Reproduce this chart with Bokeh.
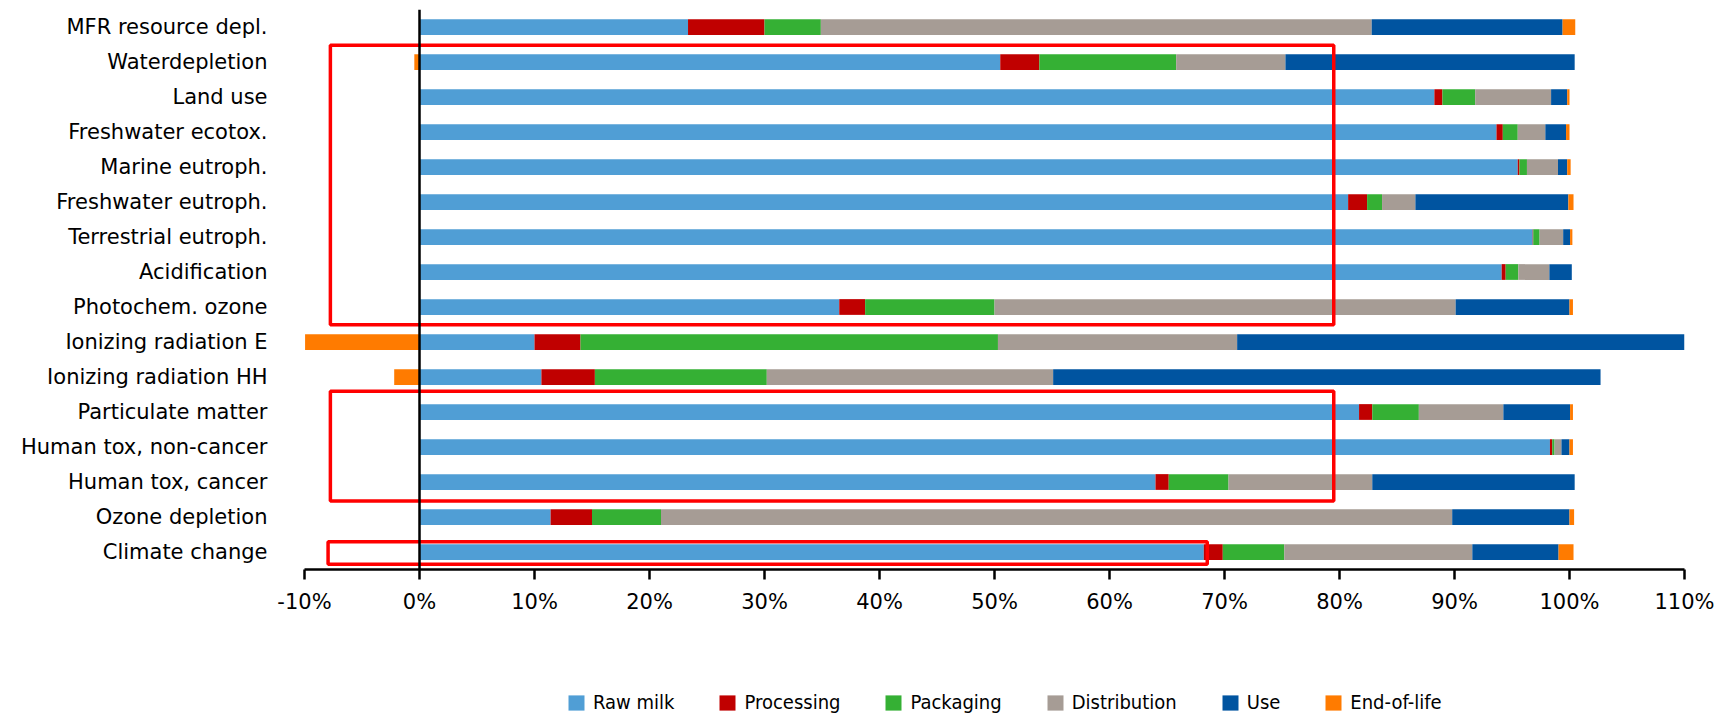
from bokeh.plotting import figure
from bokeh.models import FactorRange, Range1d, FixedTicker, Span, Legend, LegendItem
from bokeh.layouts import column
from bokeh.embed import file_html
from bokeh.resources import INLINE

# ---------------- data ----------------
categories = [
    "MFR resource depl.", "Waterdepletion", "Land use", "Freshwater ecotox.",
    "Marine eutroph.", "Freshwater eutroph.", "Terrestrial eutroph.", "Acidification",
    "Photochem. ozone", "Ionizing radiation E", "Ionizing radiation HH",
    "Particulate matter", "Human tox, non-cancer", "Human tox, cancer",
    "Ozone depletion", "Climate change",
]
raw_milk     = [23.35, 50.5, 88.25, 93.65, 95.5, 80.75, 96.8, 94.1, 36.5, 10.0, 10.6, 81.7, 98.3, 64.0, 11.4, 68.2]
processing   = [6.65, 3.4, 0.7, 0.55, 0.15, 1.65, 0.05, 0.35, 2.25, 4.0, 4.65, 1.15, 0.2, 1.15, 3.6, 1.65]
packaging    = [4.9, 11.9, 2.85, 1.3, 0.65, 1.3, 0.55, 1.1, 11.25, 36.3, 14.95, 4.05, 0.2, 5.2, 6.0, 5.35]
distribution = [47.9, 9.5, 6.6, 2.4, 2.7, 2.9, 2.05, 2.7, 40.1, 20.8, 24.9, 7.35, 0.6, 12.5, 68.8, 16.35]
use          = [16.6, 25.15, 1.4, 1.8, 0.8, 13.3, 0.6, 1.95, 9.9, 39.5, 47.6, 5.8, 0.7, 17.6, 10.2, 7.5]
end_of_life  = [1.1, -0.45, 0.2, 0.3, 0.3, 0.45, 0.2, 0.0, 0.3, -9.95, -2.2, 0.25, 0.3, 0.0, 0.4, 1.3]

series_names = ["Raw milk", "Processing", "Packaging", "Distribution", "Use", "End-of-life"]
x_ticks = [-10, 0, 10, 20, 30, 40, 50, 60, 70, 80, 90, 100, 110]

# highlighted groups (red frames): first / last category, x extent in %
box_first = ["Waterdepletion", "Particulate matter", "Climate change"]
box_last = ["Photochem. ozone", "Human tox, cancer", "Climate change"]
box_left = [-7.75, -7.75, -7.95]
box_right = [79.5, 79.5, 68.5]

# ---------------- styles ----------------
colors = ["#509ED5", "#C00000", "#35B034", "#A69C95", "#0054A0", "#FF7B00"]
box_top_pad = [0.48, 0.59, 0.29]
box_bot_pad = [0.51, 0.54, 0.35]
FONT = "DejaVu Sans"
W = 1720
FRAME_L = 304
FRAME_R = 1684

p = figure(
    width=W, height=650,
    x_range=Range1d(-10, 110),
    y_range=FactorRange(*reversed(categories)),
    output_backend="svg", toolbar_location=None,
    min_border_left=FRAME_L, min_border_right=W - FRAME_R,
    min_border_top=9, min_border_bottom=81,
)
p.outline_line_color = None
p.xgrid.visible = False
p.ygrid.visible = False
p.background_fill_color = "white"
p.border_fill_color = "white"

n = len(categories)
pos_base = [0.0] * n
for name, vals, color in zip(series_names,
                             [raw_milk, processing, packaging, distribution, use, end_of_life],
                             colors):
    left, right = [], []
    for i, v in enumerate(vals):
        if v >= 0:
            left.append(pos_base[i])
            right.append(pos_base[i] + v)
            pos_base[i] += v
        else:
            left.append(v)
            right.append(0.0)
    p.hbar(y=categories, left=left, right=right, height=0.45,
           fill_color=color, line_color=None)

# zero line
p.add_layout(Span(location=0, dimension="height", line_color="black", line_width=2.5))

# red highlight frames (synthetic categorical coordinates)
def center_of(cat):
    return (n - 1 - categories.index(cat)) + 0.5

tops = [center_of(c) + tp for c, tp in zip(box_first, box_top_pad)]
bots = [center_of(c) - bp for c, bp in zip(box_last, box_bot_pad)]
p.quad(left=box_left, right=box_right, top=tops, bottom=bots,
       fill_alpha=0, line_color="#FF0000", line_width=3.5)

# axes
xa = p.xaxis[0]
xa.ticker = FixedTicker(ticks=x_ticks)
xa.major_label_overrides = {t: f"{t}%" for t in x_ticks}
xa.axis_line_color = "black"
xa.axis_line_width = 2.5
xa.major_tick_line_color = "black"
xa.major_tick_line_width = 2.5
xa.major_tick_out = 10
xa.major_tick_in = 0
xa.minor_tick_line_color = None
xa.major_label_text_font = FONT
xa.major_label_text_font_size = "21px"
xa.major_label_text_color = "black"
xa.major_label_standoff = 10

ya = p.yaxis[0]
ya.axis_line_color = None
ya.major_tick_line_color = None
ya.minor_tick_line_color = None
ya.major_tick_out = 0
ya.major_tick_in = 0
ya.major_label_standoff = 37
ya.major_label_text_font = FONT
ya.major_label_text_font_size = "21px"
ya.major_label_text_color = "black"

# legend strip below the chart (its frame is aligned with the chart's frame)
p2 = figure(width=W, height=65, x_range=Range1d(0, 1), y_range=Range1d(0, 1),
            output_backend="svg", toolbar_location=None,
            min_border_left=FRAME_L, min_border_right=W - FRAME_R,
            min_border_top=0, min_border_bottom=0)
p2.axis.visible = False
p2.grid.visible = False
p2.outline_line_color = None
p2.border_fill_color = "white"
p2.background_fill_alpha = 0
leg_renderers = []
for color in colors:
    # legend-key renderers, kept outside the visible range of the strip
    leg_renderers.append(p2.hbar(y=[-5.0], left=[0.0], right=[0.1], height=0.5,
                                 fill_color=color, line_color=None))

legend = Legend(
    items=[LegendItem(label=nm, renderers=[r]) for nm, r in zip(series_names, leg_renderers)],
    orientation="horizontal",
    location=(566 - FRAME_L, 1),
    glyph_width=20, glyph_height=19,
    label_standoff=7, spacing=43,
    padding=0, margin=0,
    border_line_alpha=0, background_fill_alpha=0,
    label_text_font="DejaVu Sans Condensed",
    label_text_font_size="20px",
    label_text_color="black",
)
p2.add_layout(legend)

layout = column(p, p2, spacing=0)
open("out.html", "w").write(file_html(layout, INLINE))
